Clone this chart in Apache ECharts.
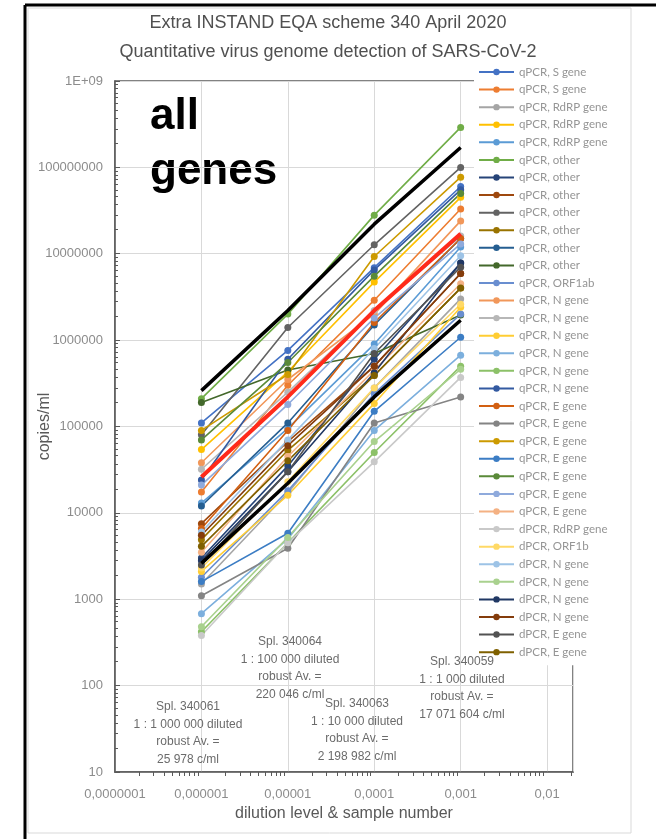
<!DOCTYPE html>
<html><head><meta charset="utf-8">
<script src="https://cdn.jsdelivr.net/npm/echarts@6/dist/echarts.min.js"></script>
<style>html,body{margin:0;padding:0;background:#fff}#c{width:656px;height:839px}</style>
</head><body><div id="c"></div>
<script>
// ---- data ----
const dilutions = [0.000001, 0.00001, 0.0001, 0.001];
const legendLabels = [
  'qPCR, S gene','qPCR, S gene','qPCR, RdRP gene','qPCR, RdRP gene','qPCR, RdRP gene',
  'qPCR, other','qPCR, other','qPCR, other','qPCR, other','qPCR, other','qPCR, other','qPCR, other',
  'qPCR, ORF1ab','qPCR, N gene','qPCR, N gene','qPCR, N gene','qPCR, N gene','qPCR, N gene','qPCR, N gene',
  'qPCR, E gene','qPCR, E gene','qPCR, E gene','qPCR, E gene','qPCR, E gene','qPCR, E gene','qPCR, E gene',
  'dPCR, RdRP gene','dPCR, ORF1b','dPCR, N gene','dPCR, N gene','dPCR, N gene','dPCR, N gene',
  'dPCR, E gene','dPCR, E gene'
];
// copies/ml per participant at each dilution (sample 340061, 340064, 340063, 340059)
const spl340061 = [110000,17500,1500,54000,13000,210000,3000,7500,80000,4900,12000,190000,
  1800,38000,32000,2100,680,420,24000,6600,1100,90000,1600,70000,21000,3500,380,2300,6000,480,2800,5500,2500,4100];
const spl340064 = [760000,300000,17000,430000,95000,2000000,35000,67000,1400000,53000,110000,450000,
  18000,350000,250000,16000,5000,4500,600000,90000,3900,400000,5800,550000,180000,45000,4500,23000,70000,5200,30000,60000,30000,40000];
const spl340063 = [6900000,2900000,280000,4700000,900000,28000000,600000,500000,12700000,390000,1500000,700000,
  240000,2000000,2200000,185000,90000,50000,6500000,1600000,110000,9300000,150000,5500000,1800000,450000,39000,280000,800000,67000,420000,500000,700000,390000];
const spl340059 = [60000000,33000000,3000000,45000000,12000000,290000000,7800000,5900000,100000000,4000000,15000000,1950000,
  2000000,24000000,16000000,2400000,670000,500000,55000000,15000000,220000,77000000,1080000,50000000,13000000,4500000,370000,2600000,9500000,460000,7800000,5900000,7000000,4000000];
const robustAverage = [25978, 220046, 2198982, 17071604];
const upperLimit = [260000, 2200000, 22000000, 170000000];
const lowerLimit = [2600, 22000, 220000, 1700000];
const xTickLabels = ['0,0000001','0,000001','0,00001','0,0001','0,001','0,01'];
const yTickLabels = ['10','100','1000','10000','100000','1000000','10000000','100000000','1E+09'];
const sampleNotes = [
  'Spl. 340061\n1 : 1 000 000 diluted\nrobust Av. =\n25 978 c/ml',
  'Spl. 340064\n1 : 100 000 diluted\nrobust Av. =\n220 046 c/ml',
  'Spl. 340063\n1 : 10 000 diluted\nrobust Av. =\n2 198 982 c/ml',
  'Spl. 340059\n1 : 1 000 diluted\nrobust Av. =\n17 071 604 c/ml'
];

// ---- style ----
const colors = ['#4472C4','#ED7D31','#A5A5A5','#FFC000','#5B9BD5','#70AD47','#264478','#9E480E','#636363','#997300',
  '#255E91','#43682B','#698ED0','#F1975A','#B7B7B7','#FFCD33','#7CAFDD','#8CC168','#335AA1','#D26012','#848484',
  '#CC9A00','#3C7DC4','#5A8A39','#8FAADC','#F4B183','#C9C9C9','#FFD966','#9DC3E6','#A9D18E','#203864','#843C0C',
  '#525252','#7F6000'];
const FONT = 'Liberation Sans, Arial, sans-serif';
const LEGFONT = 'Lato, "Liberation Sans", sans-serif';
const cols = [spl340061, spl340064, spl340063, spl340059];

const series = legendLabels.map((lab, i) => ({
  name: 'S' + i,
  type: 'line',
  data: dilutions.map((d, j) => [d, cols[j][i]]),
  symbol: 'circle',
  symbolSize: 7,
  lineStyle: { width: 1.6, color: colors[i] },
  itemStyle: { color: colors[i] },
  z: 2
}));
series.push({ name: 'robust', type: 'line', data: dilutions.map((d, j) => [d, robustAverage[j]]),
  symbol: 'none', lineStyle: { width: 4, color: '#FF2A1A' }, z: 5 });
series.push({ name: 'upper', type: 'line', data: dilutions.map((d, j) => [d, upperLimit[j]]),
  symbol: 'none', lineStyle: { width: 3.5, color: '#000' }, z: 5 });
series.push({ name: 'lower', type: 'line', data: dilutions.map((d, j) => [d, lowerLimit[j]]),
  symbol: 'none', lineStyle: { width: 3.5, color: '#000' }, z: 5 });

const notePos = [[188, 698], [290, 633], [357, 695], [462, 653]];

const chart = echarts.init(document.getElementById('c'), null, { renderer: 'canvas' });
chart.setOption({
  animation: false,
  backgroundColor: '#fff',
  textStyle: { fontFamily: FONT },
  title: {
    text: 'Extra INSTAND EQA scheme 340 April 2020\nQuantitative virus genome detection of SARS-CoV-2',
    left: 'center', top: 4,
    textStyle: { fontFamily: FONT, fontSize: 18, fontWeight: 'normal', color: '#505050', lineHeight: 29 }
  },
  grid: { left: 115, right: 83, top: 81, bottom: 67, show: true, borderColor: '#595959', borderWidth: 1.5 },
  xAxis: {
    type: 'log', logBase: 10, min: 1e-7, max: Math.pow(10, -1.7), splitNumber: 6,
    name: 'dilution level & sample number', nameLocation: 'middle', nameGap: 34, nameMoveOverlap: false,
    nameTextStyle: { fontFamily: FONT, fontSize: 16, color: '#595959' },
    axisLine: { lineStyle: { color: '#595959', width: 1.5 } },
    axisTick: { show: false },
    minorTick: { show: true, splitNumber: 10, length: 4, lineStyle: { color: '#595959' } },
    splitLine: { show: true, lineStyle: { color: '#d9d9d9', width: 1 } },
    axisLabel: {
      fontFamily: FONT, fontSize: 13, color: '#8c8c8c', margin: 16, showMaxLabel: true,
      formatter: v => { const e = Math.log10(v); if (Math.abs(e - Math.round(e)) > 0.01) return ''; return xTickLabels[Math.round(e) + 7] || ''; }
    }
  },
  yAxis: {
    type: 'log', logBase: 10, min: 10, max: 1e9, splitNumber: 8,
    name: 'copies/ml', nameLocation: 'middle', nameGap: 62, nameMoveOverlap: false,
    nameTextStyle: { fontFamily: FONT, fontSize: 16, color: '#595959' },
    axisLine: { show: true, lineStyle: { color: '#595959', width: 1.5 } },
    axisTick: { show: true, inside: true, length: 5, lineStyle: { color: '#595959' } },
    minorTick: { show: true, splitNumber: 10, length: 3, lineStyle: { color: '#595959' } },
    splitLine: { show: true, lineStyle: { color: '#d9d9d9', width: 1 } },
    axisLabel: {
      fontFamily: FONT, fontSize: 13, color: '#8c8c8c', margin: 12,
      formatter: v => { const e = Math.round(Math.log10(v)); return yTickLabels[e - 1] || ''; }
    }
  },
  legend: {
    orient: 'vertical', left: 474, top: 61, padding: [4, 8, 6, 4],
    backgroundColor: '#fff', selectedMode: false,
    itemWidth: 35, itemHeight: 8, itemGap: 3.58,
    data: legendLabels.map((l, i) => 'S' + i),
    formatter: name => legendLabels[+name.slice(1)],
    textStyle: { fontFamily: LEGFONT, fontSize: 11.5, color: '#959595', lineHeight: 14 }
  },
  graphic: [
    { type: 'rect', shape: { x: 28, y: 8, width: 603, height: 825 }, style: { fill: 'none', stroke: '#d9d9d9', lineWidth: 1 }, silent: true },
    { type: 'line', shape: { x1: 25, y1: 5, x2: 656, y2: 5 }, style: { stroke: '#000', lineWidth: 3 }, silent: true },
    { type: 'line', shape: { x1: 25, y1: 5, x2: 25, y2: 839 }, style: { stroke: '#000', lineWidth: 3 }, silent: true },
    { type: 'text', left: 150, top: 95, style: { text: 'all', font: 'bold 44px ' + FONT, fill: '#000' }, silent: true },
    { type: 'text', left: 150, top: 150, style: { text: 'genes', font: 'bold 44px ' + FONT, fill: '#000' }, silent: true }
  ].concat(sampleNotes.map((t, k) => ({
    type: 'text', x: notePos[k][0], y: notePos[k][1], silent: true, z: 10,
    style: { text: t, align: 'center', verticalAlign: 'top', font: '12px ' + FONT, fill: '#6b6b6b', lineHeight: 17.5 }
  }))),
  series: series
});
</script></body></html>
